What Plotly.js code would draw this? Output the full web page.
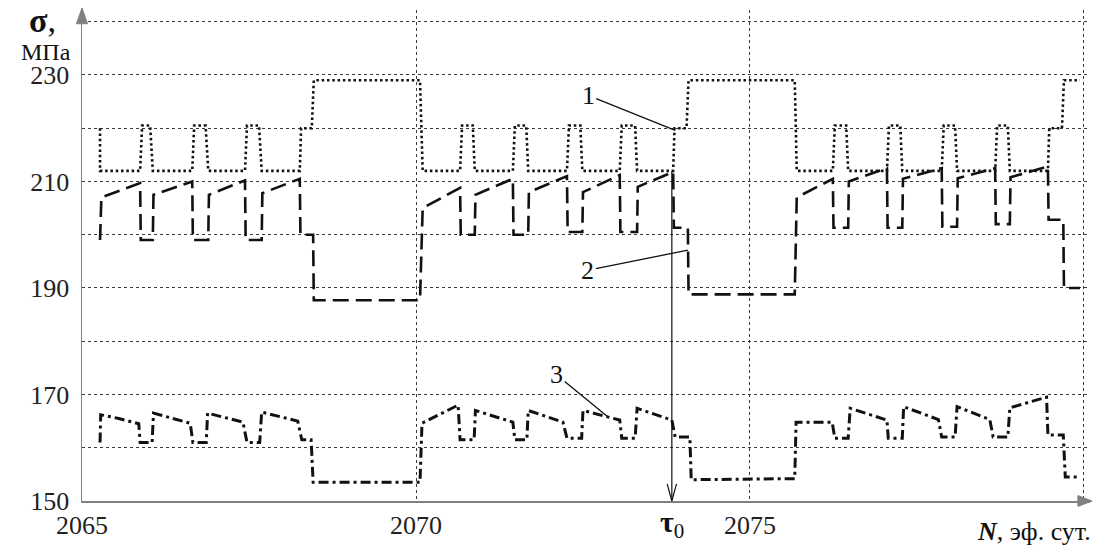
<!DOCTYPE html>
<html>
<head>
<meta charset="utf-8">
<script src="https://cdn.plot.ly/plotly-3.0.1.min.js"></script>
<style>html,body{margin:0;padding:0;background:#fff;}#chart{width:1096px;height:548px;}</style>
</head>
<body>
<div id="chart"></div>
<script>
// Curve 1 (dotted)
const s1x = [2065.27, 2065.27, 2065.87, 2065.90, 2066.02, 2066.06, 2066.65, 2066.68, 2066.85, 2066.89, 2067.44, 2067.47, 2067.65, 2067.69, 2068.26, 2068.28, 2068.44, 2068.47, 2070.06, 2070.10, 2070.66, 2070.69, 2070.85, 2070.88, 2071.45, 2071.48, 2071.65, 2071.68, 2072.26, 2072.29, 2072.46, 2072.49, 2073.05, 2073.08, 2073.28, 2073.31, 2073.85, 2073.87, 2074.05, 2074.08, 2075.67, 2075.70, 2076.24, 2076.27, 2076.44, 2076.47, 2077.05, 2077.08, 2077.25, 2077.28, 2077.87, 2077.90, 2078.07, 2078.10, 2078.67, 2078.70, 2078.86, 2078.89, 2079.46, 2079.48, 2079.67, 2079.70, 2079.94];
const s1y = [220, 212, 212, 220.5, 220.5, 212, 212, 220.5, 220.5, 212, 212, 220.5, 220.5, 212, 212, 220, 220, 229, 229, 212, 212, 220.5, 220.5, 212, 212, 220.5, 220.5, 212, 212, 220.5, 220.5, 212, 212, 220.5, 220.5, 212, 212, 220, 220, 229, 229, 212, 212, 220.5, 220.5, 212, 212, 220.5, 220.5, 212, 212, 220.5, 220.5, 212, 212, 220.5, 220.5, 212, 212, 220, 220, 229, 229];

// Curve 2 (dashed)
const s2x = [2065.27, 2065.29, 2065.87, 2065.88, 2066.06, 2066.07, 2066.65, 2066.66, 2066.89, 2066.90, 2067.44, 2067.45, 2067.69, 2067.70, 2068.26, 2068.27, 2068.46, 2068.47, 2070.06, 2070.10, 2070.66, 2070.67, 2070.88, 2070.89, 2071.45, 2071.46, 2071.68, 2071.69, 2072.26, 2072.27, 2072.49, 2072.50, 2073.05, 2073.06, 2073.31, 2073.32, 2073.85, 2073.86, 2074.07, 2074.08, 2075.67, 2075.70, 2076.24, 2076.25, 2076.47, 2076.48, 2077.05, 2077.06, 2077.28, 2077.29, 2077.87, 2077.88, 2078.10, 2078.11, 2078.67, 2078.68, 2078.89, 2078.90, 2079.46, 2079.47, 2079.69, 2079.70, 2079.94];
const s2y = [199, 207, 209.7, 199, 199, 207.5, 210, 199, 199, 207.5, 210.2, 199, 199, 207.8, 210.5, 200, 200, 187.7, 187.7, 205, 208.8, 200, 200, 207.5, 210.5, 200, 200, 208, 211, 200.5, 200.5, 208, 211.2, 200.5, 200.5, 209, 211.8, 201.3, 201.3, 188.8, 188.8, 207, 210.5, 201.3, 201.3, 210, 212.5, 201.3, 201.3, 210.5, 212.5, 201.5, 201.5, 210.6, 212.5, 202, 202, 210.8, 212.8, 202.8, 202.8, 190, 190];

// Curve 3 (dash-dot)
const s3x = [2065.27, 2065.28, 2065.55, 2065.85, 2065.87, 2066.05, 2066.07, 2066.62, 2066.66, 2066.86, 2066.88, 2067.41, 2067.47, 2067.66, 2067.69, 2068.23, 2068.29, 2068.43, 2068.46, 2070.06, 2070.09, 2070.63, 2070.66, 2070.87, 2070.89, 2071.45, 2071.48, 2071.66, 2071.68, 2072.20, 2072.26, 2072.48, 2072.50, 2073.05, 2073.08, 2073.28, 2073.31, 2073.83, 2073.88, 2074.10, 2074.12, 2075.67, 2075.69, 2076.23, 2076.27, 2076.47, 2076.50, 2077.05, 2077.07, 2077.28, 2077.30, 2077.82, 2077.87, 2078.07, 2078.10, 2078.59, 2078.64, 2078.86, 2078.89, 2079.44, 2079.46, 2079.69, 2079.72, 2079.94];
const s3y = [161, 166.2, 165.5, 164.5, 161, 161, 166.5, 164.6, 161, 161, 166.5, 164.8, 161, 161, 166.7, 165, 161.5, 161.5, 153.5, 153.5, 164.6, 168, 161.5, 161.5, 167, 164.8, 161.5, 161.5, 167, 164.8, 161.8, 161.8, 167, 165.2, 161.8, 161.8, 167.4, 165.2, 162, 162, 154, 154.2, 164.8, 164.8, 161.8, 161.8, 167.4, 165.2, 161.8, 161.8, 167.7, 165.3, 162, 162, 167.7, 165.3, 162, 162, 167.5, 169.5, 162.4, 162.4, 154.5, 154.5];

// Axis ticks
const yTickVals = [150, 170, 190, 210, 230];
const yTickText = ['150', '170', '190', '210', '230'];
const xTickVals = [2065, 2070, 2075];
const xTickText = ['2065', '2070', '2075'];

// Markers / labels
const tau0 = 2073.83;
const tauTop = 212;
const curveLabels = [
  {name: '1', x: 2073.88, y: 219.6, ax: -87, ay: -35},
  {name: '2', x: 2074.07, y: 197.1, ax: -100, ay: 20},
  {name: '3', x: 2072.87, y: 165.8, ax: -51, ay: -42}
];

const serif = 'Times New Roman';
const gridStyle = {showgrid: true, gridcolor: '#3a3a3a', gridwidth: 1, griddash: '3px,3px'};

const traces = [
  {x: s1x, y: s1y, mode: 'lines', line: {color: '#111', width: 2.6, dash: '2.5px,2.8px', simplify: false}},
  {x: s2x, y: s2y, mode: 'lines', line: {color: '#111', width: 2.6, dash: '16px,7px', simplify: false}},
  {x: s3x, y: s3y, mode: 'lines', line: {color: '#111', width: 3, dash: '10px,4px,3px,4px', simplify: false}}
];

const shapes = [
  // axis arrowheads (paper coords)
  {type: 'path', xref: 'paper', yref: 'paper', path: 'M 0 1.004 L -0.0055 0.972 L 0.0055 0.972 Z',
   fillcolor: '#808080', line: {color: '#808080', width: 1}},
  {type: 'path', xref: 'paper', yref: 'paper', path: 'M 1.002 0 L 0.988 0.011 L 0.988 -0.011 Z',
   fillcolor: '#808080', line: {color: '#808080', width: 1}},
  // tau0 marker line with open arrowhead
  {type: 'line', xref: 'x', yref: 'y', x0: tau0, x1: tau0, y0: tauTop, y1: 150, line: {color: '#111', width: 1.2}},
  {type: 'path', xref: 'x', yref: 'y',
   path: 'M ' + (tau0 - 0.07) + ' 153.2 L ' + tau0 + ' 150 L ' + (tau0 + 0.07) + ' 153.2',
   line: {color: '#111', width: 1.2}}
];

const annotations = [
  // tau0 label
  {xref: 'x', yref: 'paper', x: tau0, y: 0, yanchor: 'top', yshift: -2, xanchor: 'center', showarrow: false,
   text: '<b>τ</b><sub>0</sub>', font: {family: serif, size: 30, color: '#111'}},
  // sigma label
  {xref: 'paper', yref: 'paper', x: 0, y: 1, xanchor: 'right', yanchor: 'top', xshift: -24, yshift: 10, showarrow: false,
   text: '<b>σ</b>,', font: {family: serif, size: 34, color: '#111'}},
  {xref: 'paper', yref: 'paper', x: 0, y: 0.915, xanchor: 'right', yanchor: 'middle', xshift: -9, showarrow: false,
   text: 'МПа', font: {family: serif, size: 24, color: '#111'}},
  // x axis title
  {xref: 'paper', yref: 'paper', x: 1, y: 0, xanchor: 'right', yanchor: 'top', xshift: 3, yshift: -14, showarrow: false,
   text: '<b><i>N</i></b>, эф. сут.', font: {family: serif, size: 26, color: '#111'}}
];

curveLabels.forEach(function (c) {
  annotations.push({xref: 'x', yref: 'y', x: c.x, y: c.y, ax: c.ax, ay: c.ay, text: c.name,
    showarrow: true, arrowhead: 0, arrowwidth: 1.3, arrowcolor: '#111', standoff: 0,
    font: {family: serif, size: 26, color: '#111'}});
});

const layout = {
  width: 1096, height: 548,
  margin: {l: 82, r: 6, t: 10, b: 47, pad: 0},
  paper_bgcolor: '#fff', plot_bgcolor: '#fff',
  showlegend: false,
  font: {family: serif, size: 26, color: '#222'},
  xaxis: Object.assign({
    range: [2065, 2080.09], tickmode: 'array', tickvals: xTickVals, ticktext: xTickText,
    showline: true, linecolor: '#808080', linewidth: 1.5, zeroline: false, ticks: '',
    tickfont: {family: serif, size: 26, color: '#222'},
    minor: Object.assign({tickmode: 'linear', tick0: 2065, dtick: 5, ticks: ''}, gridStyle)
  }, gridStyle),
  yaxis: Object.assign({
    range: [150, 242.2], tickmode: 'array', tickvals: yTickVals, ticktext: yTickText,
    showline: true, linecolor: '#808080', linewidth: 1.5, zeroline: false,
    ticks: 'outside', ticklen: 6, tickcolor: 'rgba(0,0,0,0)',
    tickfont: {family: serif, size: 26, color: '#222'},
    minor: Object.assign({tickmode: 'linear', tick0: 150, dtick: 10, ticks: ''}, gridStyle)
  }, gridStyle),
  shapes: shapes,
  annotations: annotations
};

Plotly.newPlot('chart', traces, layout, {displayModeBar: false, staticPlot: true});
</script>
</body>
</html>
